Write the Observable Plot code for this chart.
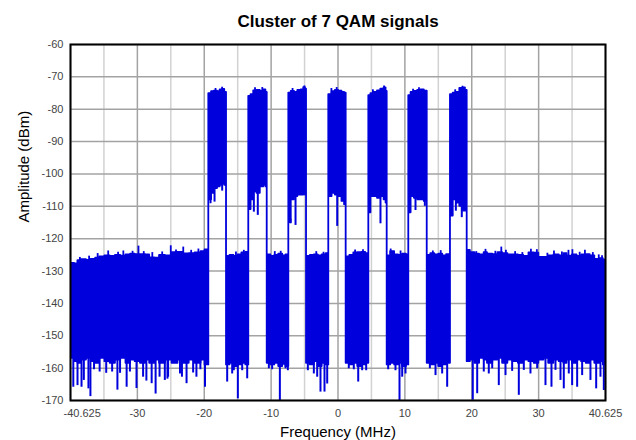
<!DOCTYPE html>
<html><head><meta charset="utf-8">
<script src="https://cdn.jsdelivr.net/npm/d3@7"></script>
<script src="https://cdn.jsdelivr.net/npm/@observablehq/plot@0.6"></script>
<style>
body{margin:0;background:#fff;}
</style>
</head><body><div id="chart"></div>
<script>
const title = "Cluster of 7 QAM signals";
const xLabel = "Frequency (MHz)";
const yLabel = "Amplitude (dBm)";
const xDomain = [-40.625, 40.625];
const yDomain = [-170, -60];
const xTickLabels = ["-40.625", "-30", "-20", "-10", "0", "10", "20", "30", "40.625"];
const yTicks = [-60, -70, -80, -90, -100, -110, -120, -130, -140, -150, -160, -170];

// Trace envelope rows: [frequency MHz, upper edge dBm, lower edge dBm]
const floorLeft = [
  [-40.625, -127.6, -157], [-40.0, -127.8, -158], [-39.5, -126.8, -158.5], [-39.0, -126.5, -157.5],
  [-38.2, -126.7, -157], [-37.5, -126.4, -158], [-36.8, -126.0, -158.5], [-36.2, -125.6, -157],
  [-35.4, -125.3, -158], [-34.6, -125.5, -158.5], [-33.8, -125.2, -157.5], [-33.0, -125.4, -157],
  [-32.2, -125.0, -158.5], [-31.5, -124.8, -157.5], [-30.8, -124.9, -158], [-30.0, -124.9, -158.5],
  [-29.2, -125.0, -157.5], [-28.6, -125.9, -158.5], [-27.8, -126.0, -157.5], [-27.1, -125.2, -158.5],
  [-26.2, -125.3, -157.5], [-25.2, -124.3, -158.5], [-24.3, -124.2, -157.5], [-23.5, -124.7, -158.5],
  [-22.6, -124.6, -157.5], [-21.7, -124.4, -158.5], [-20.8, -124.0, -157.5], [-20.2, -123.5, -159]
];
const qam1 = [[-19.62, -75.2, -108], [-19.2, -74.6, -106], [-18.8, -74.4, -104.5], [-18.3, -74.6, -104],
  [-17.9, -74.0, -103.5], [-17.5, -73.9, -103], [-17.2, -74.8, -103.5]];
const gap1 = [[-16.93, -125.5, -159], [-16.4, -125.2, -158.5], [-15.8, -125.5, -159.5], [-15.2, -125.0, -159],
  [-14.6, -124.4, -158.5], [-14.0, -124.2, -159]];
const qam2 = [[-13.55, -76.0, -111], [-13.2, -75.5, -108], [-12.8, -74.3, -105.5], [-12.3, -74.2, -106],
  [-11.8, -74.5, -104], [-11.3, -74.0, -103.5], [-10.95, -74.8, -104]];
const gap2 = [[-10.75, -125.0, -158.5], [-10.2, -125.5, -159], [-9.6, -125.2, -158.5], [-9.0, -124.8, -159.5],
  [-8.4, -125.3, -158.8], [-7.9, -125.0, -159.5]];
const qam3 = [[-7.47, -75.0, -115], [-7.1, -74.5, -108], [-6.6, -74.8, -107], [-6.1, -74.2, -106.5],
  [-5.6, -74.0, -106.5], [-5.2, -73.3, -106], [-4.95, -73.8, -106.5]];
const gap3 = [[-4.78, -125.5, -158.5], [-4.2, -125.2, -159], [-3.6, -125.0, -158], [-3.0, -125.3, -159.5],
  [-2.4, -125.0, -158.5], [-1.8, -124.6, -159]];
const qam4 = [[-1.4, -75.5, -107], [-0.9, -74.6, -106], [-0.4, -74.2, -106.5], [0.1, -74.4, -107],
  [0.6, -74.8, -108.5], [1.0, -75.0, -109.5]];
const gap4 = [[1.24, -125.6, -158.5], [1.8, -125.2, -159], [2.4, -124.4, -158.5], [3.0, -124.3, -159.5],
  [3.6, -124.2, -159], [4.2, -124.6, -158.5]];
const qam5 = [[4.68, -75.8, -112], [5.0, -75.2, -107], [5.5, -74.8, -107], [6.0, -74.3, -107.5],
  [6.5, -73.8, -107], [7.0, -73.4, -108], [7.3, -74.5, -109]];
const gap5 = [[7.47, -125.3, -159], [8.0, -124.0, -158.5], [8.6, -125.0, -159], [9.2, -125.2, -158.5],
  [9.8, -124.8, -159.5], [10.4, -125.0, -159]];
const qam6 = [[10.75, -75.8, -112], [11.1, -74.8, -107], [11.6, -74.5, -107.5], [12.1, -74.2, -108],
  [12.6, -74.0, -108], [13.1, -74.4, -108.5]];
const gap6 = [[13.55, -125.2, -158.5], [14.1, -124.6, -159], [14.7, -125.0, -158.5], [15.3, -124.8, -159.5],
  [15.9, -125.3, -159], [16.5, -124.9, -158.5]];
const qam7 = [[17.08, -75.5, -113], [17.5, -75.0, -108], [18.0, -74.8, -109], [18.5, -73.6, -110],
  [19.0, -73.4, -111.5], [19.35, -74.2, -111.5]];
const floorRight = [
  [19.62, -123.6, -158], [20.1, -124.3, -157.5], [20.8, -124.8, -158.5], [21.5, -125.0, -157],
  [22.2, -124.3, -157.5], [22.7, -124.8, -158.5], [23.5, -124.9, -157.5], [24.3, -124.3, -157],
  [25.0, -124.6, -158.5], [25.8, -125.0, -157.5], [26.6, -125.0, -158], [27.4, -125.2, -158.5],
  [28.2, -125.5, -157.5], [29.0, -124.4, -158], [29.8, -124.5, -158.5], [30.5, -125.8, -157.5],
  [31.3, -125.8, -157], [32.0, -125.3, -158.5], [32.8, -125.0, -157.5], [33.6, -125.3, -158],
  [34.3, -124.6, -158.5], [34.8, -125.4, -157.5], [35.6, -125.0, -158.5], [36.3, -125.5, -157.5],
  [37.0, -125.0, -158], [37.7, -124.9, -158.5], [38.3, -125.3, -157.5], [39.0, -126.4, -158.5],
  [39.8, -126.2, -158], [40.3, -126.6, -159], [40.625, -126.6, -159]
];
// Deep downward spikes: [frequency MHz, dBm]
const dips = [
  [-40.2, -165.9], [-39.56, -165.4], [-38.95, -165.9], [-38.6, -163.8], [-37.9, -166.4], [-37.6, -168.8],
  [-37.05, -160.5], [-36.2, -161.2], [-35.2, -161.6], [-34.3, -161.2], [-33.5, -166.8], [-33.1, -161.6],
  [-32.1, -165.9], [-31.6, -161.2], [-30.6, -166.3], [-29.6, -162.8], [-29.1, -164.0], [-28.3, -164.8],
  [-27.7, -168.0], [-27.1, -162.8], [-26.3, -163.8], [-25.9, -163.4], [-25.8, -162.8], [-24.0, -161.8],
  [-23.7, -162.8], [-23.0, -164.8], [-22.0, -161.5], [-21.5, -162.8], [-20.9, -160.5], [-20.2, -165.9],
  [-19.36, -109.2], [-18.75, -108.7], [-17.59, -105.3],
  [-16.83, -164.3], [-16.07, -161.8], [-15.82, -160.8], [-15.21, -169.5], [-14.55, -160.8], [-13.79, -163.3],
  [-12.78, -111.8], [-12.18, -112.8],
  [-10.5, -160.2], [-10.0, -160.5], [-8.83, -170], [-7.97, -160.2], [-7.62, -160.8],
  [-7.21, -115.4], [-6.45, -115.9],
  [-4.58, -160.8], [-3.67, -161.8], [-3.16, -162.8], [-2.66, -167.4], [-2.05, -167.4], [-1.64, -164.9],
  [-0.12, -116.2],
  [1.64, -160.2], [2.4, -160.5], [3.07, -164.3], [3.67, -160.8], [4.28, -160.8],
  [6.45, -115.4],
  [7.62, -160.5], [8.73, -160.8], [9.34, -170], [9.75, -162.8], [10.25, -161.8],
  [11.77, -111.3], [13.19, -110.0],
  [13.95, -160.2], [14.81, -162.3], [15.82, -161.8], [16.58, -165.9],
  [17.9, -111.5], [18.8, -113.5],
  [20.47, -169.9], [21.14, -167.9], [22.14, -161.2], [22.9, -161.8], [23.42, -160.2], [24.42, -165.4],
  [25.44, -162.3], [26.45, -161.0], [27.46, -168.4], [28.22, -160.7], [29.23, -161.8], [30.25, -160.2],
  [31.51, -165.4], [32.42, -165.9], [33.03, -160.7], [33.79, -163.8], [34.29, -166.4], [35.05, -161.8],
  [35.56, -165.4], [36.32, -165.9], [37.08, -162.3], [38.34, -163.8], [39.21, -166.4], [39.86, -162.8],
  [40.37, -166.9]
];
// Small upward spikes: [frequency MHz, dBm]
const peaks = [
  [-39.2, -125.8], [-37.8, -125.4], [-36.5, -124.6], [-34.9, -123.8], [-33.4, -124.2], [-32.6, -123.8],
  [-31.2, -123.9], [-30.3, -122.3], [-29.5, -124.0], [-28.2, -124.3], [-26.7, -124.1], [-25.4, -122.2],
  [-24.6, -123.5], [-23.5, -122.6], [-22.3, -123.6], [-21.2, -123.2],
  [-18.6, -73.6], [-17.6, -73.2], [-14.3, -123.6], [-15.5, -124.1], [-12.6, -73.4], [-11.5, -73.3],
  [-9.6, -124.0], [-8.7, -123.9], [-6.9, -73.6], [-5.1, -72.8], [-3.3, -124.0], [-2.2, -124.2],
  [-1.0, -73.6], [-0.2, -73.3], [2.6, -123.5], [3.8, -123.4], [5.3, -74.0], [7.0, -72.8],
  [8.0, -123.2], [9.5, -123.8], [11.4, -73.8], [12.3, -73.4], [14.4, -123.8], [15.6, -123.7],
  [17.8, -74.0], [18.9, -72.9], [21.0, -124.0], [22.4, -123.3], [23.9, -123.9], [24.8, -122.6],
  [25.5, -123.6], [26.9, -124.0], [28.0, -124.3], [29.3, -123.3], [30.2, -123.4], [31.8, -124.5],
  [32.8, -123.8], [34.0, -124.1], [35.0, -123.6], [35.6, -123.4], [36.7, -124.2], [37.5, -123.6],
  [38.7, -124.3], [39.6, -125.0], [40.1, -125.3]
];

const trace = [].concat(floorLeft, qam1, gap1, qam2, gap2, qam3, gap3, qam4, gap4, qam5, gap5, qam6, gap6, qam7, floorRight)
  .map(([f, hi, lo]) => ({f, hi, lo}));
const envAt = (f) => { let r = trace[0]; for (const t of trace) { if (t.f <= f) r = t; else break; } return r; };

const span = xDomain[1] - xDomain[0];
const gridAll = d3.range(17).map(k => xDomain[0] + k * span / 16);
const gridMinor = gridAll.filter((d, k) => k % 2 === 1);
const gridMajor = gridAll.filter((d, k) => k % 2 === 0);
const xTickVals = gridMajor;
const blue = "#0000dd";
const font = "Arial, 'Liberation Sans', sans-serif";

const chart = Plot.plot({
  width: 636, height: 440,
  marginLeft: 70, marginRight: 31, marginTop: 44, marginBottom: 40,
  style: {fontFamily: font, background: "#fff", color: "#000"},
  x: {domain: xDomain, axis: null},
  y: {domain: yDomain, axis: null},
  marks: [
    Plot.ruleX(gridMinor, {stroke: "#d2d2d2", strokeWidth: 1.5}),
    Plot.ruleX(gridMajor, {stroke: "#a3a3a3", strokeWidth: 1.5}),
    Plot.ruleY(yTicks, {stroke: "#a3a3a3", strokeWidth: 1.5}),
    Plot.areaY(trace, {x: "f", y1: "lo", y2: "hi", curve: "step-after", fill: blue, stroke: blue, strokeWidth: 1.8, clip: true}),
    Plot.ruleX(dips, {x: d => d[0], y1: d => envAt(d[0]).lo + 1, y2: d => d[1], stroke: blue, strokeWidth: 2, clip: true}),
    Plot.ruleX(peaks, {x: d => d[0], y1: d => envAt(d[0]).hi - 1, y2: d => d[1], stroke: blue, strokeWidth: 1.8, clip: true}),
    Plot.frame({stroke: "#000", strokeWidth: 2}),
    Plot.text(yTicks, {y: d => d, frameAnchor: "left", dx: -7, textAnchor: "end", text: d => String(d), fontSize: 11, fill: "#444"}),
    Plot.text(xTickVals.slice(0, 1), {x: d => d, frameAnchor: "bottom", dy: 9, dx: -7, lineAnchor: "top", textAnchor: "start", text: () => xTickLabels[0], fontSize: 11, fill: "#444"}),
    Plot.text(xTickVals.slice(1), {x: d => d, frameAnchor: "bottom", dy: 9, lineAnchor: "top", text: (d, i) => xTickLabels[i + 1], fontSize: 11, fill: "#444"}),
    Plot.text([title], {frameAnchor: "top", dy: -23, lineAnchor: "middle", fontSize: 17, fontWeight: "bold", fill: "#000"}),
    Plot.text([yLabel], {frameAnchor: "left", dx: -46, rotate: -90, fontSize: 15, fill: "#000"}),
    Plot.text([xLabel], {frameAnchor: "bottom", dy: 32, lineAnchor: "middle", fontSize: 15, fill: "#000"})
  ]
});
document.getElementById("chart").appendChild(chart);
</script>
</body></html>
